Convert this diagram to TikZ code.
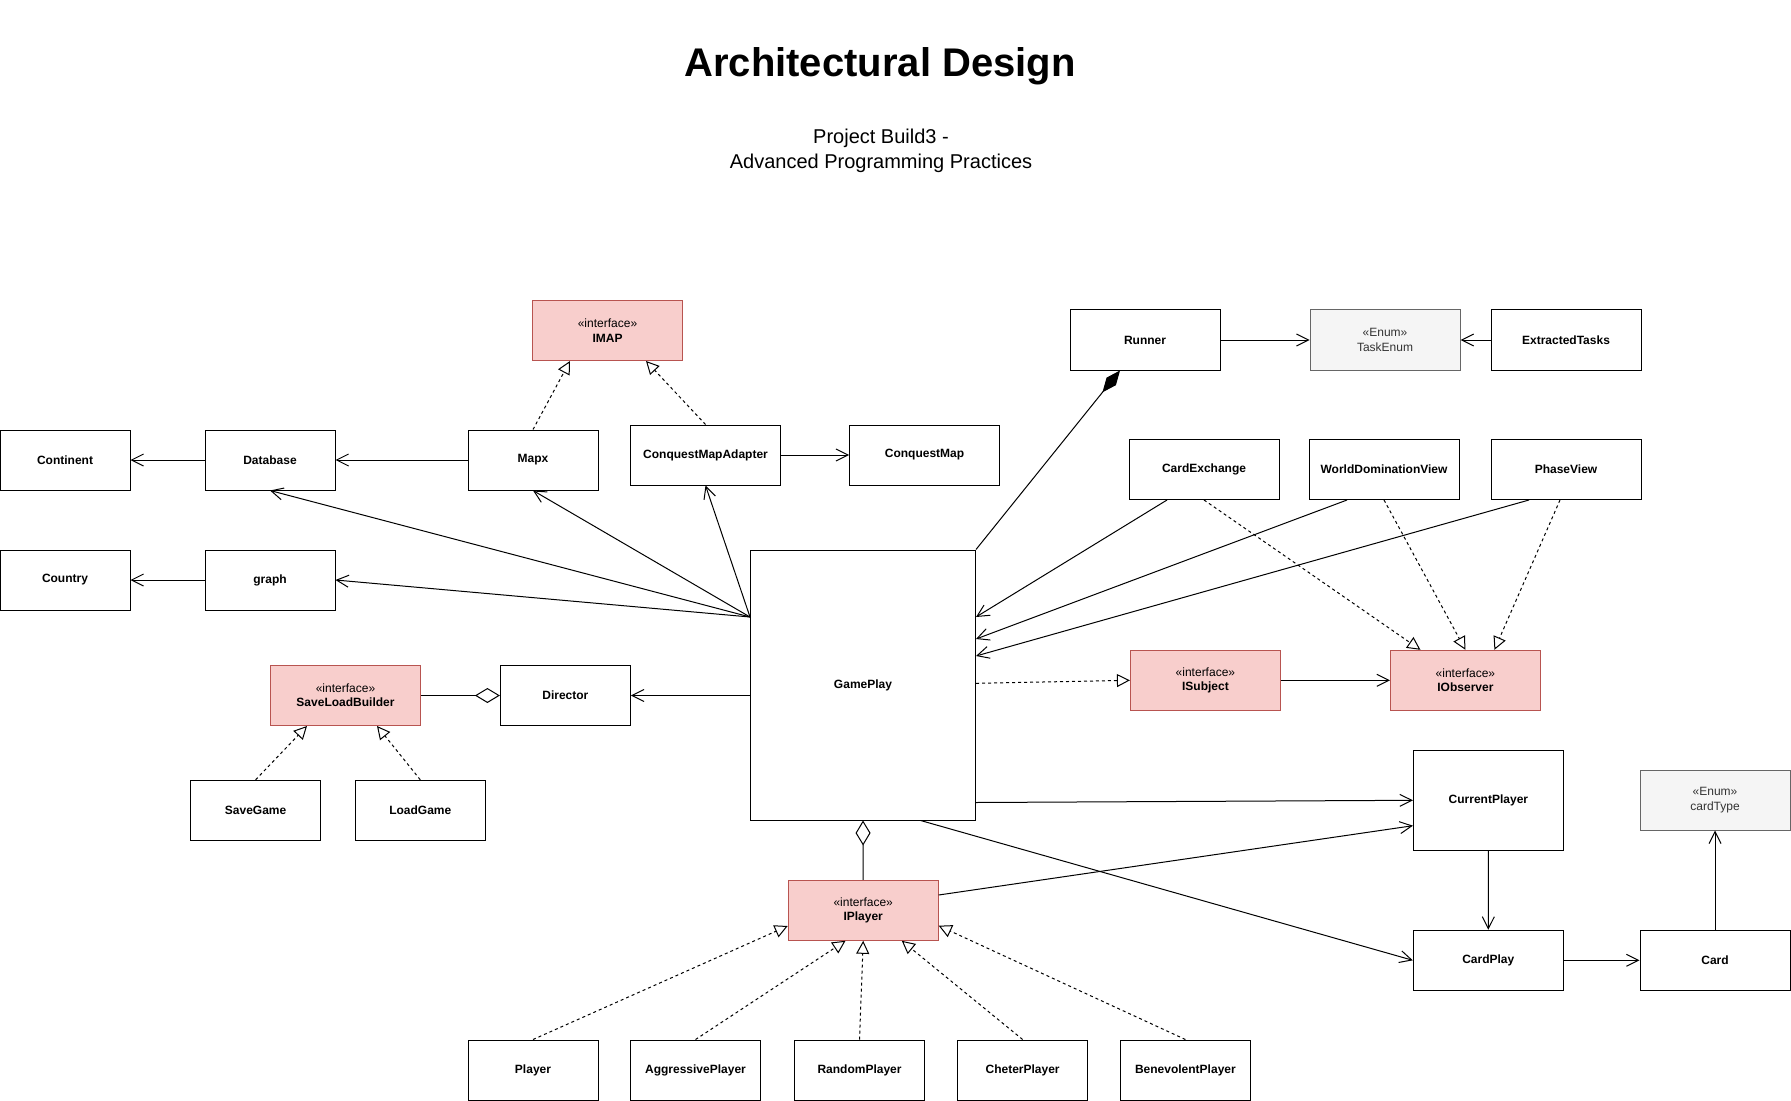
\documentclass[tikz,border=0pt]{standalone}
\usepackage{fontspec}
\setmainfont{Liberation Sans}
\usetikzlibrary{arrows.meta,calc}
\definecolor{IfaceFill}{HTML}{F8CECC}
\definecolor{IfaceLine}{HTML}{B85450}
\definecolor{EnumFill}{HTML}{F5F5F5}
\definecolor{EnumLine}{HTML}{666666}
\definecolor{EnumText}{HTML}{333333}
\tikzset{
  cls/.style={draw,fill=white,line width=0.5pt,inner sep=0pt,
    minimum width=65pt,minimum height=30pt,align=center,
    font=\fontsize{6}{7.2}\selectfont\bfseries},
  wide/.style={cls,minimum width=75pt},
  iface/.style={wide,fill=IfaceFill,draw=IfaceLine},
  enumcls/.style={wide,fill=EnumFill,draw=EnumLine,text=EnumText,
    font=\fontsize{6}{7.2}\selectfont},
  assoc/.style={line width=0.5pt,-{Straight Barb[length=6pt,width=6pt]}},
  realize/.style={line width=0.5pt,dash pattern=on 1.5pt off 1.5pt,
    -{Triangle[open,length=6.5pt,width=6.5pt]}},
  aggr/.style={line width=0.5pt,-{Diamond[open,length=12.5pt,width=7.5pt]}},
  compo/.style={line width=0.5pt,-{Diamond[length=14pt,width=6pt]}}
}
\begin{document}
\begin{tikzpicture}[x=0.5pt,y=-0.5pt]
    \useasboundingbox (0,0) rectangle (1791,1101);
    \node[anchor=base,font=\fontsize{20}{24}\selectfont\bfseries]
      (title) at (880,76.7) {Architectural Design};
    \node[anchor=base,font=\fontsize{10}{12.5}\selectfont]
      (sub1) at (881,143.3) {Project Build3 -};
    \node[anchor=base,font=\fontsize{10}{12.5}\selectfont]
      (sub2) at (881,168.3) {Advanced Programming Practices};

    \node[iface] (imap) at (607.5,330.5) {\textmd{«interface»}\\IMAP};
    \node[wide] (runner) at (1145,340) {Runner};
    \node[enumcls] (taskenum) at (1385,340) {«Enum»\\TaskEnum};
    \node[wide] (extracted) at (1566,340) {ExtractedTasks};
    \node[cls] (continent) at (65,460) {Continent};
    \node[cls] (database) at (270,460) {Database};
    \node[cls] (mapx) at (533,460) {Mapx};
    \node[wide] (cmadapter) at (705.5,455) {ConquestMapAdapter};
    \node[wide] (cmap) at (924.5,455) {ConquestMap};
    \node[wide] (cardexch) at (1204,469.5) {CardExchange};
    \node[wide] (worlddom) at (1384,469.5) {WorldDominationView};
    \node[wide] (phaseview) at (1566,469.5) {PhaseView};
    \node[cls] (country) at (65,580) {Country};
    \node[cls] (graph) at (270,580) {graph};
    \node[cls,minimum width=112.5pt,minimum height=135pt]
      (gameplay) at (863,685) {GamePlay};
    \node[iface] (saveload) at (345.5,695.5) {\textmd{«interface»}\\SaveLoadBuilder};
    \node[cls] (director) at (565.4,695.5) {Director};
    \node[iface] (isubject) at (1205.4,680.3) {\textmd{«interface»}\\ISubject};
    \node[iface] (iobserver) at (1465.4,680.3) {\textmd{«interface»}\\IObserver};
    \node[wide,minimum height=50pt] (curplayer) at (1488.4,800.3) {CurrentPlayer};
    \node[enumcls] (cardtype) at (1715,800) {«Enum»\\cardType};
    \node[wide] (cardplay) at (1488.3,960.3) {CardPlay};
    \node[wide] (card) at (1715,960.3) {Card};
    \node[cls] (savegame) at (255.6,810.3) {SaveGame};
    \node[cls] (loadgame) at (420.3,810.3) {LoadGame};
    \node[iface] (iplayer) at (863.2,910.3) {\textmd{«interface»}\\IPlayer};
    \foreach \n/\t/\x in {player/Player/533,aggrplayer/AggressivePlayer/695.5,
      randplayer/RandomPlayer/859.5,cheter/CheterPlayer/1022.6,
      benev/BenevolentPlayer/1185.4}{
      \node[cls] (\n) at (\x,1070) {\t};
    }

    \draw[assoc] (database.west) -- (continent.east);
    \draw[assoc] (mapx.west) -- (database.east);
    \draw[assoc] (graph.west) -- (country.east);
    \draw[assoc] (cmadapter.east) -- (cmap.west);
    \draw[realize] (mapx.north) -- ($(imap.south)+(-37.5,0)$);
    \draw[realize] (cmadapter.north) -- ($(imap.south)+(38.5,0)$);
    \coordinate (gpw) at ($(gameplay.west)+(0,-68)$);
    \foreach \t/\a in {database/south,graph/east,mapx/south,cmadapter/south}{
      \draw[assoc] (gpw) -- (\t.\a);
    }
    \draw[assoc] (gameplay.west |- director) -- (director.east);
    \draw[aggr] (saveload.east) -- (director.west);
    \draw[realize] (savegame.north) -- ($(saveload.south)+(-38.5,0)$);
    \draw[realize] (loadgame.north) -- ($(saveload.south)+(31.5,0)$);

    \draw[compo] (gameplay.north east) -- ($(runner.south)+(-25,0)$);
    \draw[assoc] (runner.east) -- (taskenum.west);
    \draw[assoc] (extracted.west) -- (taskenum.east);
    \draw[assoc] ($(cardexch.south)+(-37,0)$) -- ($(gameplay.east)+(0,-68)$);
    \draw[assoc] ($(worlddom.south)+(-37,0)$) -- ($(gameplay.east)+(0,-46)$);
    \draw[assoc] ($(phaseview.south)+(-37,0)$) -- ($(gameplay.east)+(0,-29)$);
    \draw[realize] (cardexch.south) -- ($(iobserver.north)+(-45,0)$);
    \draw[realize] (worlddom.south) -- (iobserver.north);
    \draw[realize] ($(phaseview.south)+(-6,0)$) -- ($(iobserver.north)+(29,0)$);
    \draw[realize] ($(gameplay.east)+(0,-1.7)$) -- (isubject.west);
    \draw[assoc] (isubject.east) -- (iobserver.west);

    \draw[assoc] ($(gameplay.east)+(0,117.5)$) -- (curplayer.west);
    \draw[assoc] ($(iplayer.east)+(0,-15.3)$) -- ($(curplayer.west)+(0,25.4)$);
    \draw[assoc] ($(gameplay.south)+(57.6,0)$) -- (cardplay.west);
    \draw[assoc] (curplayer.south) -- (cardplay.north);
    \draw[assoc] (cardplay.east) -- (card.west);
    \draw[assoc] (card.north) -- (cardtype.south);
    \draw[aggr] (iplayer.north) -- (gameplay.south);

    \draw[realize] (player.north) -- ($(iplayer.west)+(0,15.7)$);
    \draw[realize] (aggrplayer.north) -- ($(iplayer.south)+(-17.7,0)$);
    \draw[realize] (randplayer.north) -- (iplayer.south);
    \draw[realize] (cheter.north) -- ($(iplayer.south)+(38.6,0)$);
    \draw[realize] (benev.north) -- ($(iplayer.east)+(0,15.4)$);
\end{tikzpicture}
\end{document}
